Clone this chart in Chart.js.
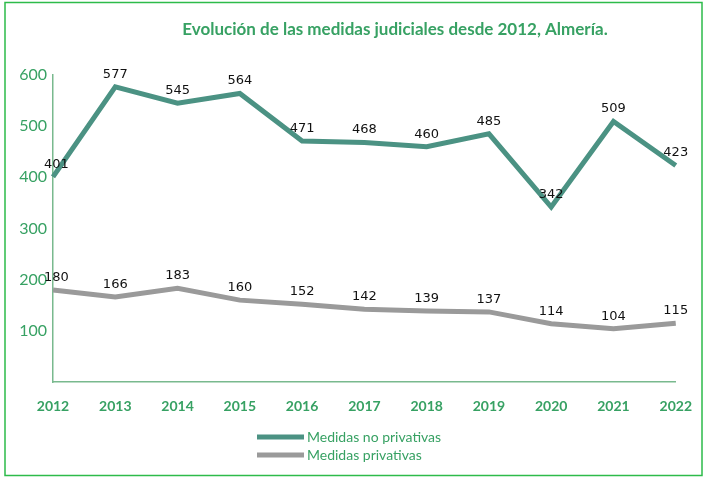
<!DOCTYPE html>
<html>
<head>
<meta charset="utf-8">
<script src="https://cdn.jsdelivr.net/npm/chart.js@4"></script>
<style>
  body { margin: 0; background: #fff; }
  #wrap { width: 708px; height: 478px; }
</style>
</head>
<body>
<div id="wrap"><canvas id="myChart" width="708" height="478"></canvas></div>
<script>
const years = ["2012", "2013", "2014", "2015", "2016", "2017", "2018", "2019", "2020", "2021", "2022"];
const noPrivativas = [401, 577, 545, 564, 471, 468, 460, 485, 342, 509, 423];
const privativas = [180, 166, 183, 160, 152, 142, 139, 137, 114, 104, 115];
const seriesNames = ["Medidas no privativas", "Medidas privativas"];
const lineColors = ["#4b9283", "#9a9a9a"];
const titleText = "Evolución de las medidas judiciales desde 2012, Almería.";

const green = "#37a163";

// frame, title, value labels and stacked legend
const decorations = {
  id: "decorations",
  beforeDraw(chart) {
    const ctx = chart.ctx;
    ctx.save();
    ctx.strokeStyle = "#2dbb4a";
    ctx.lineWidth = 1.5;
    ctx.strokeRect(5, 2.5, 697, 473);
    ctx.restore();
  },
  afterDraw(chart) {
    const ctx = chart.ctx;
    ctx.save();
    ctx.fillStyle = green;
    ctx.font = "bold 17px Lato, 'Open Sans', sans-serif";
    ctx.textAlign = "center";
    ctx.textBaseline = "middle";
    ctx.fillText(titleText, 395, 30);

    ctx.fillStyle = "#111";
    ctx.font = "13px 'DejaVu Sans', sans-serif";
    ctx.textBaseline = "bottom";
    chart.data.datasets.forEach((ds, i) => {
      chart.getDatasetMeta(i).data.forEach((pt, j) => {
        const txt = String(ds.data[j]);
        const w = ctx.measureText(txt).width;
        let x = pt.x;
        if (x - w / 2 < 44) x = 44 + w / 2;
        ctx.fillText(txt, x, pt.y - 6);
      });
    });

    ctx.textAlign = "left";
    ctx.textBaseline = "middle";
    ctx.font = "14px Lato, 'Open Sans', sans-serif";
    chart.data.datasets.forEach((ds, i) => {
      const y = 437 + i * 18;
      ctx.strokeStyle = ds.borderColor;
      ctx.lineWidth = 5;
      ctx.beginPath();
      ctx.moveTo(257, y);
      ctx.lineTo(304, y);
      ctx.stroke();
      ctx.fillStyle = green;
      ctx.fillText(ds.label, 307, y);
    });
    ctx.restore();
  }
};

new Chart("myChart", {
  type: "line",
  data: {
    labels: years,
    datasets: [
      { label: seriesNames[0], data: noPrivativas, borderColor: lineColors[0], borderWidth: 5, pointRadius: 0, tension: 0 },
      { label: seriesNames[1], data: privativas, borderColor: lineColors[1], borderWidth: 5, pointRadius: 0, tension: 0 }
    ]
  },
  options: {
    responsive: false,
    animation: false,
    layout: { padding: { left: 0, right: 25, top: 75, bottom: 56 } },
    scales: {
      x: {
        offset: false,
        grid: { display: false, drawTicks: false },
        border: { display: true, color: "#79b98e", width: 1.5 },
        ticks: { color: green, padding: 16, maxRotation: 0, autoSkip: false,
          font: { family: "Lato, 'Open Sans', sans-serif", size: 14, weight: "bold" } },
        afterFit: s => { s.height = 40; }
      },
      y: {
        min: 0,
        max: 600,
        grid: { display: false, drawTicks: false },
        border: { display: true, color: "#79b98e", width: 1.5 },
        ticks: { stepSize: 100, color: green, padding: 6,
          font: { family: "Lato, 'Open Sans', sans-serif", size: 16 },
          callback: v => (v === 0 ? "" : v) },
        afterFit: s => { s.width = 53; }
      }
    },
    plugins: {
      legend: { display: false },
      title: { display: false },
      tooltip: { enabled: false }
    }
  },
  plugins: [decorations]
});
</script>
</body>
</html>
